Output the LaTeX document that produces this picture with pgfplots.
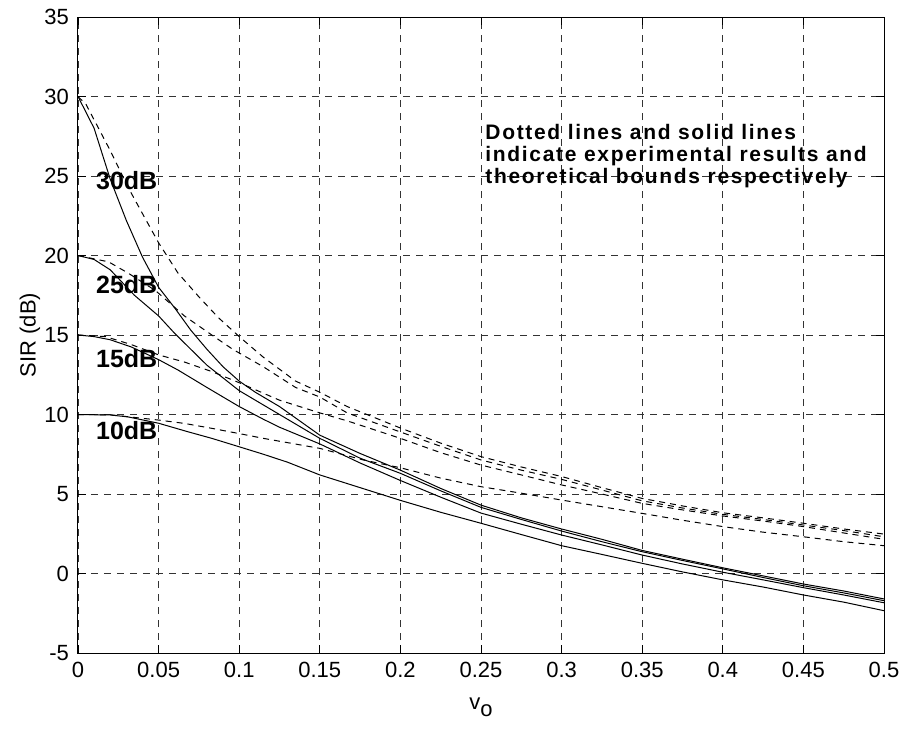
\documentclass[border=0pt]{standalone}
\usepackage{fontspec}
\setmainfont{Liberation Sans}
\usepackage{pgfplots}
\pgfplotsset{compat=1.18}
\newcommand{\tickfont}{\fontsize{11}{13}\selectfont}
\begin{document}
\begin{tikzpicture}
\begin{axis}[
  scale only axis, width=403pt, height=318pt,
  xmin=0, xmax=0.5, ymin=-5, ymax=35,
  xtick={0,0.05,0.1,0.15,0.2,0.25,0.3,0.35,0.4,0.45,0.5},
  xticklabels={0,0.05,0.1,0.15,0.2,0.25,0.3,0.35,0.4,0.45,0.5},
  ytick={-5,0,5,10,15,20,25,30,35},
  yticklabels={-5,0,5,10,15,20,25,30,35},
  scaled x ticks=false,
  tick label style={font=\tickfont},
  xticklabel style={yshift=-1pt},
  yticklabel style={xshift=-1pt},
  /pgf/number format/assume math mode=true,
  grid=major,
  major grid style={black!80, dash pattern=on 3.5pt off 3pt, line width=0.4pt},
  tick align=inside, major tick length=4pt,
  tick style={black, line width=0.4pt},
  axis line style={black, line width=0.5pt},
  solidc/.style={black, solid, line width=0.5pt},
  dashc/.style={black, line width=0.5pt, dash pattern=on 3pt off 2.5pt},
]
% theoretical bounds (solid)
\addplot[solidc] coordinates {(0,30)(0.01,28.0)(0.02,24.8)(0.03,22.2)(0.04,19.9)(0.05,18.0)(0.06,16.7)(0.07,15.3)(0.08,14.1)(0.09,13.0)(0.1,12.1)(0.11,11.4)(0.125,10.5)(0.15,8.7)(0.175,7.55)(0.2,6.5)(0.225,5.35)(0.25,4.3)(0.275,3.5)(0.3,2.8)(0.325,2.15)(0.35,1.45)(0.375,0.9)(0.4,0.36)(0.425,-0.15)(0.45,-0.66)(0.475,-1.1)(0.5,-1.6)};
\addplot[solidc] coordinates {(0,20)(0.01,19.75)(0.02,19.1)(0.035,17.5)(0.05,16.2)(0.06,15.1)(0.07,14.1)(0.08,13.1)(0.09,12.3)(0.1,11.5)(0.115,10.6)(0.125,10.0)(0.15,8.5)(0.175,7.25)(0.2,6.3)(0.225,5.2)(0.25,4.16)(0.275,3.4)(0.3,2.67)(0.325,2.0)(0.35,1.37)(0.375,0.82)(0.4,0.29)(0.425,-0.25)(0.45,-0.77)(0.475,-1.22)(0.5,-1.71)};
\addplot[solidc] coordinates {(0,15)(0.01,14.9)(0.02,14.7)(0.033,14.25)(0.05,13.45)(0.062,12.8)(0.08,11.7)(0.1,10.5)(0.115,9.7)(0.125,9.2)(0.15,8.15)(0.175,6.95)(0.2,5.85)(0.225,4.8)(0.25,3.8)(0.275,3.1)(0.3,2.42)(0.325,1.8)(0.35,1.16)(0.375,0.6)(0.4,0.08)(0.425,-0.4)(0.45,-0.89)(0.475,-1.35)(0.5,-1.84)};
\addplot[solidc] coordinates {(0,10)(0.02,9.97)(0.031,9.85)(0.05,9.45)(0.068,8.92)(0.083,8.5)(0.1,7.97)(0.115,7.5)(0.13,7.0)(0.15,6.2)(0.175,5.4)(0.2,4.6)(0.225,3.85)(0.25,3.16)(0.275,2.45)(0.3,1.75)(0.325,1.2)(0.35,0.64)(0.375,0.1)(0.4,-0.4)(0.425,-0.85)(0.45,-1.35)(0.475,-1.8)(0.5,-2.34)};
% experimental results (dashed)
\addplot[dashc] coordinates {(0,30)(0.005,29.5)(0.02,26.6)(0.031,24.3)(0.041,22.45)(0.05,20.8)(0.062,18.9)(0.075,17.4)(0.087,16.1)(0.1,14.9)(0.115,13.6)(0.135,12.1)(0.15,11.4)(0.167,10.5)(0.2,9.15)(0.225,8.2)(0.25,7.35)(0.275,6.7)(0.3,6.1)(0.325,5.4)(0.35,4.72)(0.375,4.25)(0.4,3.82)(0.425,3.5)(0.45,3.16)(0.475,2.8)(0.5,2.48)};
\addplot[dashc] coordinates {(0,20)(0.019,19.6)(0.031,18.9)(0.048,17.8)(0.066,16.2)(0.083,15.0)(0.096,14.1)(0.115,13.0)(0.135,11.7)(0.15,11.1)(0.167,10.1)(0.2,8.9)(0.225,8.0)(0.25,7.14)(0.275,6.5)(0.3,5.92)(0.325,5.25)(0.35,4.57)(0.375,4.12)(0.4,3.72)(0.425,3.4)(0.45,3.05)(0.475,2.7)(0.5,2.31)};
\addplot[dashc] coordinates {(0,15)(0.017,14.9)(0.033,14.4)(0.05,13.75)(0.066,13.3)(0.083,12.7)(0.1,12.0)(0.125,10.9)(0.15,10.1)(0.167,9.6)(0.2,8.5)(0.225,7.6)(0.25,6.82)(0.275,6.2)(0.3,5.57)(0.325,5.0)(0.35,4.41)(0.375,4.0)(0.4,3.62)(0.425,3.3)(0.45,2.95)(0.475,2.55)(0.5,2.15)};
\addplot[dashc] coordinates {(0,10)(0.021,9.97)(0.05,9.65)(0.066,9.44)(0.083,9.13)(0.1,8.8)(0.115,8.5)(0.15,7.87)(0.177,7.14)(0.2,6.65)(0.225,6.0)(0.25,5.46)(0.275,5.05)(0.3,4.62)(0.325,4.2)(0.35,3.78)(0.375,3.35)(0.4,2.95)(0.425,2.6)(0.45,2.31)(0.475,2.0)(0.5,1.75)};
\node[anchor=west, inner sep=0pt, font=\bfseries\fontsize{12.5}{14}\selectfont] at (axis cs:0.011,24.7) {30dB};
\node[anchor=west, inner sep=0pt, font=\bfseries\fontsize{12.5}{14}\selectfont] at (axis cs:0.011,18.2) {25dB};
\node[anchor=west, inner sep=0pt, font=\bfseries\fontsize{12.5}{14}\selectfont] at (axis cs:0.011,13.5) {15dB};
\node[anchor=west, inner sep=0pt, font=\bfseries\fontsize{12.5}{14}\selectfont] at (axis cs:0.011,9.0) {10dB};
\node[anchor=north west, inner sep=0pt, align=left, font=\bfseries\fontsize{10.5}{11}\selectfont\addfontfeatures{LetterSpace=8}] at (axis cs:0.2525,28.3) {Dotted lines and solid lines\\indicate experimental results and\\theoretical bounds respectively};
\end{axis}
\node[rotate=90, font=\tickfont] at ([xshift=-24pt]current axis.west) {SIR (dB)};
\node[font=\tickfont] at ([yshift=-27pt]current axis.south) {v\raisebox{-0.6ex}{o}};
\pgfresetboundingbox
\path[use as bounding box] ([shift={(-39pt,-38.5pt)}]current axis.south west) rectangle ([shift={(11pt,8.5pt)}]current axis.north east);
\end{tikzpicture}
\end{document}
